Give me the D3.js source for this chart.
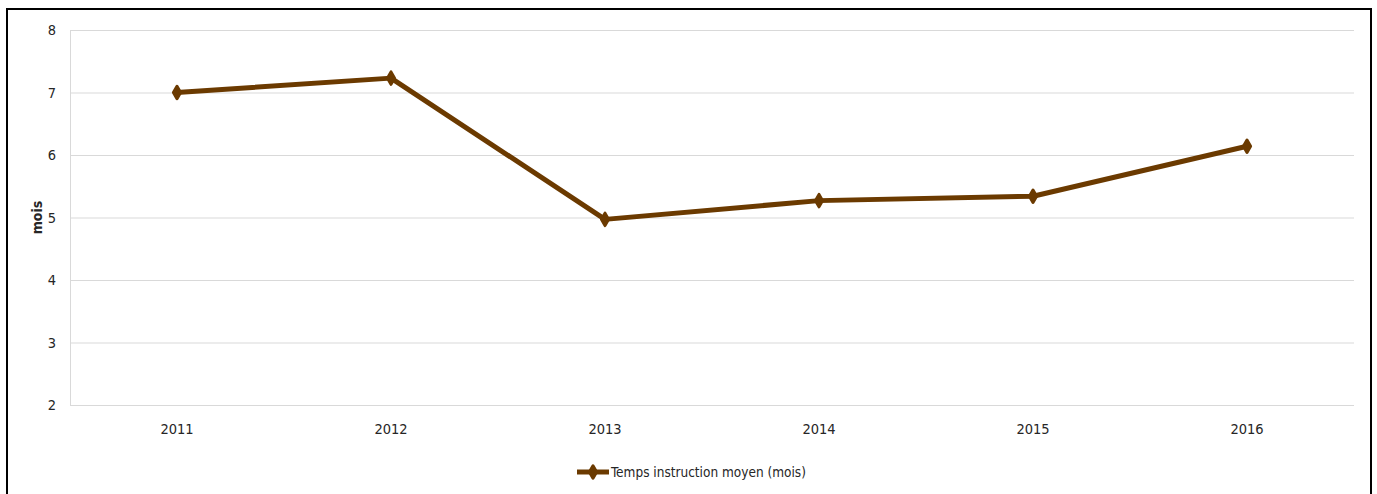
<!DOCTYPE html>
<html><head><meta charset="utf-8">
<script src="https://cdn.jsdelivr.net/npm/d3@7"></script>
<style>
body{margin:0;background:#fff;}
text{font-family:"DejaVu Sans Condensed",sans-serif;fill:#262626;}
</style></head>
<body><svg id="c" width="1377" height="494"></svg>
<script>
const years = ["2011","2012","2013","2014","2015","2016"];
const values = [7.0, 7.23, 4.97, 5.27, 5.34, 6.14];
const yTicks = [2,3,4,5,6,7,8];
const seriesName = "Temps instruction moyen (mois)";
const yTitle = "mois";

const FONT = "'DejaVu Sans Condensed',sans-serif";
const svg = d3.select("#c");
const W = 1377, H = 494;
svg.append("rect").attr("x",0).attr("y",0).attr("width",W).attr("height",H).attr("fill","#fff");
svg.append("rect").attr("x",7).attr("y",9).attr("width",1364).attr("height",H).attr("fill","none").attr("stroke","#000").attr("stroke-width",2);

const L=70, R=1354, T=30, B=405;
const x = d3.scaleBand().domain(years).range([L,R]);
const y = d3.scaleLinear().domain([2,8]).range([B,T]);
const color = "#6B3A00";

// gridlines
svg.append("g").selectAll("line").data(yTicks).join("line")
  .attr("x1",L).attr("x2",R).attr("y1",d=>y(d)+0.5).attr("y2",d=>y(d)+0.5)
  .attr("stroke","#d9d9d9").attr("stroke-width",1);
svg.append("line").attr("x1",L+0.5).attr("x2",L+0.5).attr("y1",T).attr("y2",B).attr("stroke","#d9d9d9");

// y axis labels
const ya = svg.append("g").attr("transform",`translate(${L},0)`)
  .call(d3.axisLeft(y).tickValues(yTicks).tickSize(0).tickPadding(14).tickFormat(d3.format("d")));
ya.select(".domain").remove();
ya.selectAll("text").style("font-size","14.5px").style("fill","#262626").style("font-family",FONT);

// x axis labels
const xa = svg.append("g").attr("transform",`translate(0,${B})`)
  .call(d3.axisBottom(x).tickSize(0).tickPadding(19));
xa.select(".domain").remove();
xa.selectAll("text").style("font-size","14.5px").style("fill","#262626").style("font-family",FONT);

// y title
svg.append("text").attr("transform",`translate(42,${(T+B)/2}) rotate(-90)`)
  .attr("text-anchor","middle").style("font-size","14px").style("font-weight","bold").style("font-family",FONT).text(yTitle);

// line
const line = d3.line().x((d,i)=>x(years[i])+x.bandwidth()/2).y(d=>y(d));
svg.append("path").datum(values).attr("d",line).attr("fill","none")
  .attr("stroke",color).attr("stroke-width",5).attr("stroke-linejoin","round");
svg.append("g").selectAll("path").data(values).join("path")
  .attr("d",d3.symbol(d3.symbolDiamond,45))
  .attr("transform",(d,i)=>`translate(${x(years[i])+x.bandwidth()/2},${y(d)})`)
  .attr("fill",color).attr("stroke",color).attr("stroke-width",3).attr("stroke-linejoin","round");

// legend
const lg = svg.append("g").attr("transform","translate(577,472)");
lg.append("line").attr("x1",0).attr("x2",32).attr("stroke",color).attr("stroke-width",5);
lg.append("path").attr("d",d3.symbol(d3.symbolDiamond,45)).attr("transform","translate(16,0)")
  .attr("fill",color).attr("stroke",color).attr("stroke-width",3).attr("stroke-linejoin","round");
lg.append("text").attr("x",34).attr("y",5).style("font-size","13.5px").style("font-family",FONT).text(seriesName);
</script></body></html>
